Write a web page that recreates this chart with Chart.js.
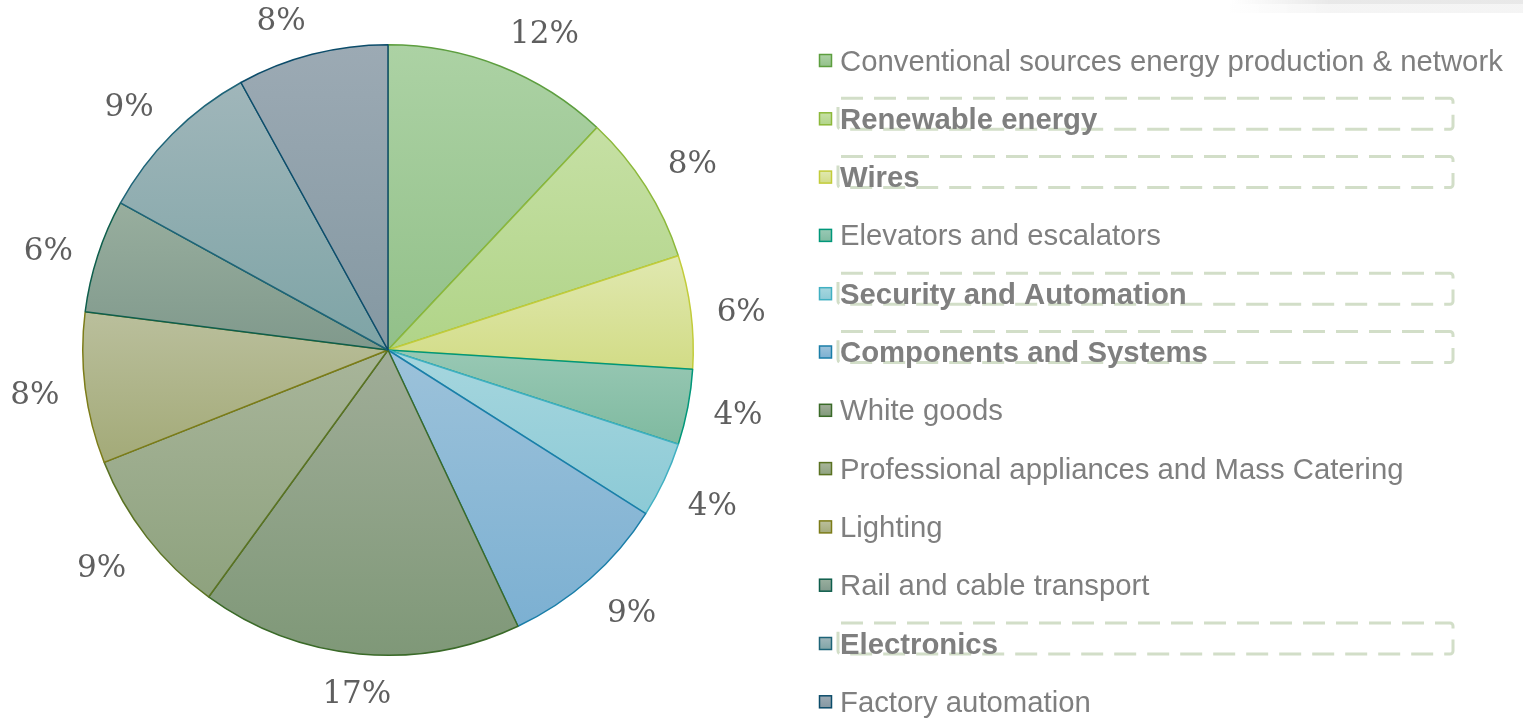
<!DOCTYPE html>
<html>
<head>
<meta charset="utf-8">
<script src="https://cdn.jsdelivr.net/npm/chart.js@4.4.1/dist/chart.umd.min.js"></script>
<style>
  html, body { margin: 0; padding: 0; background: #fff; }
  #wrap { width: 1523px; height: 721px; position: relative; }
</style>
</head>
<body>
<div id="wrap"><canvas id="pie"></canvas></div>
<script>
// ── Data ─────────────────────────────────────────────────────────
const sectors = [
  'Conventional sources energy production & network',
  'Renewable energy',
  'Wires',
  'Elevators and escalators',
  'Security and Automation',
  'Components and Systems',
  'White goods',
  'Professional appliances and Mass Catering',
  'Lighting',
  'Rail and cable transport',
  'Electronics',
  'Factory automation'
];
const shares = [12, 8, 6, 4, 4, 9, 17, 9, 8, 6, 9, 8];
const highlighted = [false, true, true, false, true, true, false, false, false, false, true, false];

// ── Styles ───────────────────────────────────────────────────────
const topColors = ['#acd2a4','#c6e0a4','#e0e8b0','#98c8b4','#a6d6de','#9cc2da',
                   '#a0ad98','#a8b59a','#babf9c','#98ae9e','#a0b6ba','#9caab4'];
const botColors = ['#92c089','#b0d488','#d2dc86','#7fbaa0','#8ccad6','#7cb0d2',
                   '#7f9878','#8ea27e','#a3aa78','#80998c','#7ea4a6','#8498a2'];
const borders   = ['#5d9e3f','#8cb83a','#c2cc3a','#00977a','#40b0c2','#1a7ea8',
                   '#3a6a28','#5a7222','#7c7c18','#0e5e4c','#1e6478','#0c4c6a'];

const total = shares.reduce((a, b) => a + b, 0);

// vertical gradient over each slice's own bounding box
function sliceFill(ctx) {
  const chart = ctx.chart, area = chart.chartArea, i = ctx.dataIndex;
  if (!area || i === undefined) return topColors[i || 0];
  const cx = (area.left + area.right) / 2, cy = (area.top + area.bottom) / 2;
  const r = Math.min(area.width, area.height) / 2;
  let acc = 0;
  for (let k = 0; k < i; k++) acc += shares[k];
  const a0 = -Math.PI / 2 + acc / total * 2 * Math.PI;
  const a1 = a0 + shares[i] / total * 2 * Math.PI;
  const ys = [cy, cy + r * Math.sin(a0), cy + r * Math.sin(a1)];
  [Math.PI / 2, -Math.PI / 2, 3 * Math.PI / 2].forEach(a => { if (a > a0 && a < a1) ys.push(cy + r * Math.sin(a)); });
  const g = chart.ctx.createLinearGradient(0, Math.min(...ys), 0, Math.max(...ys));
  g.addColorStop(0, topColors[i]);
  g.addColorStop(1, botColors[i]);
  return g;
}

// outside-end labels: box corner / edge sits on the anchor point
const pctLabels = {
  id: 'pctLabels',
  afterDatasetsDraw(chart) {
    const c = chart.ctx;
    const meta = chart.getDatasetMeta(0);
    c.save();
    c.font = '31px "DejaVu Serif", serif';
    c.fillStyle = '#5f5f5f';
    c.textAlign = 'center';
    c.textBaseline = 'middle';
    meta.data.forEach((arc, i) => {
      const p = arc.getProps(['x','y','startAngle','endAngle','outerRadius'], true);
      const mid = (p.startAngle + p.endAngle) / 2;
      const ux = Math.cos(mid), uy = Math.sin(mid);
      const txt = shares[i] + '%';
      const w = c.measureText(txt).width, h = 23;
      const d = p.outerRadius + 26;
      const hx = ux > 0.2 ? w / 2 : ux < -0.2 ? -w / 2 : 0;
      const hy = uy < -0.35 ? -h / 2 : uy > 0.35 ? h / 2 : 0;
      c.fillText(txt, p.x + ux * d + hx, p.y + uy * d + hy + 4);
    });
    c.restore();
  }
};

const sideLegend = {
  id: 'sideLegend',
  beforeDraw(chart) {
    const c = chart.ctx;
    const g = c.createLinearGradient(1230, 0, 1330, 0);
    g.addColorStop(0, 'rgba(230,230,230,0)');
    g.addColorStop(1, 'rgba(230,230,230,0.9)');
    c.save();
    c.fillStyle = g;
    c.fillRect(1230, 0, 293, 4);
    c.globalAlpha = 0.45;
    c.fillRect(1230, 4, 293, 9);
    c.restore();
  },
  afterDraw(chart) {
    const c = chart.ctx;
    c.save();
    sectors.forEach((name, i) => {
      const y = 61 + i * 58.3;
      if (highlighted[i]) {
        c.setLineDash([22, 11]);
        c.lineWidth = 3;
        c.strokeStyle = '#d2dec8';
        c.beginPath();
        c.roundRect(838, y - 21, 615, 31, 3);
        c.stroke();
        c.setLineDash([]);
      }
      const g = c.createLinearGradient(0, y - 6, 0, y + 6);
      g.addColorStop(0, topColors[i]);
      g.addColorStop(1, botColors[i]);
      c.fillStyle = g;
      c.fillRect(819.5, y - 6.5, 12, 12);
      c.lineWidth = 1.5;
      c.strokeStyle = borders[i];
      c.strokeRect(819.5, y - 6.5, 12, 12);
      c.font = (highlighted[i] ? 'bold ' : '') + '29.3px "Liberation Sans", Arial, sans-serif';
      c.fillStyle = '#7f7f7f';
      c.textAlign = 'left';
      c.textBaseline = 'middle';
      c.fillText(name, 840, y + 1.5);
    });
    c.restore();
  }
};

new Chart(document.getElementById('pie'), {
  type: 'pie',
  data: {
    labels: sectors,
    datasets: [{
      data: shares,
      backgroundColor: sliceFill,
      borderColor: borders,
      borderWidth: 1.5
    }]
  },
  options: {
    responsive: true,
    maintainAspectRatio: false,
    animation: false,
    layout: { padding: { left: 82, right: 829, top: 44, bottom: 65 } },
    plugins: { legend: { display: false }, tooltip: { enabled: false } }
  },
  plugins: [pctLabels, sideLegend]
});
</script>
</body>
</html>
